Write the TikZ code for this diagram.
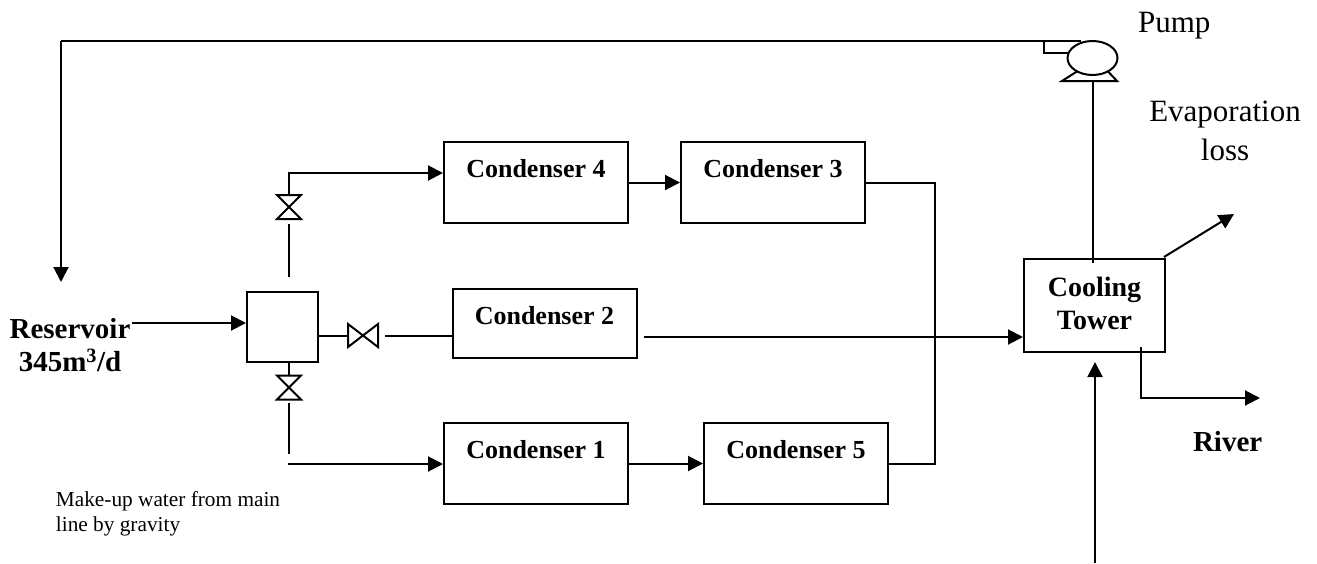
\documentclass[tikz,border=0pt]{standalone}
\usepackage{fontspec}
\setmainfont{Liberation Serif}
\usetikzlibrary{positioning,shapes.geometric,arrows.meta}

\tikzset{
  unit/.style = {draw, line width=2pt, minimum width=184pt, minimum height=81pt, inner sep=0pt,
    font=\fontsize{26}{33}\selectfont\bfseries, text height=20pt, text depth=31pt},
  plain/.style = {inner sep=0pt, align=center},
  valveh/.style = {minimum width=30pt, minimum height=23pt, inner sep=0pt, outer sep=0pt,
    append after command={\pgfextra{\draw (\tikzlastnode.south west) -- (\tikzlastnode.north east)
      -- (\tikzlastnode.south east) -- (\tikzlastnode.north west) -- cycle;}}},
  valvev/.style = {minimum width=24pt, minimum height=24pt, inner sep=0pt, outer sep=0pt,
    append after command={\pgfextra{\draw (\tikzlastnode.south west) -- (\tikzlastnode.north east)
      -- (\tikzlastnode.north west) -- (\tikzlastnode.south east) -- cycle;}}},
}

\begin{document}
\begin{tikzpicture}[x=1pt, y=-1pt, line width=2pt, >={Triangle[length=15pt,width=15pt]}]
      \useasboundingbox (0,0) rectangle (1317,563);
      \node[unit] (c4) at (536,182.5) {Condenser 4};
      \node[unit] (c3) [right=51pt of c4] {Condenser 3};
      \node[unit, minimum height=69pt, text height=20pt, text depth=19pt] (c2) at (544.5,323.5) {Condenser 2};
      \node[unit] (c1) at (536,463.5) {Condenser 1};
      \node[unit] (c5) [right=74pt of c1] {Condenser 5};
      \node[draw, minimum width=71pt, minimum height=70pt, inner sep=0pt] (hub) at (282.5,327) {};
      \node[unit, minimum width=141pt, minimum height=93pt, align=center, text height=, text depth=, font=\fontsize{28}{33}\selectfont\bfseries] (tower) at (1094.5,305.5) {Cooling\\Tower\rule[-4pt]{0pt}{1pt}};
      %% valves
      \node[valveh] (v2) at (363,335.5) {};
      \node[valvev] (v4) at (289,207) {};
      \node[valvev] (v1) at (289,387.5) {};
      %% pump
      \node[draw, ellipse, minimum width=50pt, minimum height=34pt, inner sep=0pt, outer sep=0pt] (pump) at (1092.5,58) {};
      \coordinate (bl) at (1062,81);
      \coordinate (br) at (1117,81);
      \draw (pump.-139) -- (bl) -- (br) -- (pump.-41);
      %% free ends
      \coordinate (corner) at (61,41);
      \coordinate (top) at (1081,41);
      \coordinate (back) at (61,282);
      \coordinate (tap) at (1044,41);
      \coordinate (inlet) at (132,323);
      \coordinate (up) at (289,277);
      \coordinate (upgap) at (289,224);
      \coordinate (up2) at (289,173);
      \coordinate (low) at (289,403);
      \coordinate (low2) at (289,454);
      \coordinate (low3) at (288,464);
      \coordinate (rgap) at (385,336);
      \coordinate (c2end) at (644,337);
      \coordinate (join) at (935,182.5);
      \coordinate (evap) at (1234,214);
      \coordinate (drain) at (1141,347);
      \coordinate (river) at (1260,398);
      \coordinate (air) at (1095,563);
      \coordinate (airtip) at (1095,362);
      \coordinate (feed) at (1092.5,263);
      %% connectors
      \draw (top) -- (corner);
      \draw[->] (corner) -- (back);
      \draw (tap) -- (1044,53) coordinate (tap2) -- (tap2 -| pump.west);
      \draw (bl -| pump.south) -- (feed);
      \draw[->] (inlet) -- (inlet -| hub.west);
      \draw (hub.east |- v2.west) -- (v2.west);
      \draw (rgap) -- (rgap -| c2.west);
      \draw (up) -- (upgap);
      \draw[->] (v4.north) -- (up2) -- (up2 -| c4.west);
      \draw (hub.south -| v1.north) -- (v1.north);
      \draw (low) -- (low2);
      \draw[->] (low3) -- (low3 -| c1.west);
      \draw[->] (c4) -- (c3);
      \draw[->] (c1) -- (c5);
      \draw (c3.east) -- (join) -- (join |- c5.east) -- (c5.east);
      \draw[->] (c2end) -- (c2end -| tower.west);
      \draw[->] (tower.north east) ++(-2,-1) -- (evap);
      \draw[->] (drain) -- (drain |- river) -- (river);
      \draw[->] (air) -- (airtip);
      %% labels
      \node[plain, font=\fontsize{29}{33}\selectfont\bfseries] (res) at (70,345) {Reservoir\\345m\textsuperscript{3}/d};
      \node[plain, font=\fontsize{31}{39}\selectfont, anchor=base west] (pumplab) at (1137,32) {Pump};
      \node[plain, font=\fontsize{31}{39}\selectfont] (evaplab) at (1225,131) {Evaporation\\loss};
      \node[plain, font=\fontsize{29}{33}\selectfont\bfseries, anchor=base west] (riverlab) at (1192,451) {River};
      \node[plain, font=\fontsize{21.3}{25}\selectfont, align=left] (makeup) at (168,514) {Make-up water from main\\line by gravity};
\end{tikzpicture}
\end{document}
